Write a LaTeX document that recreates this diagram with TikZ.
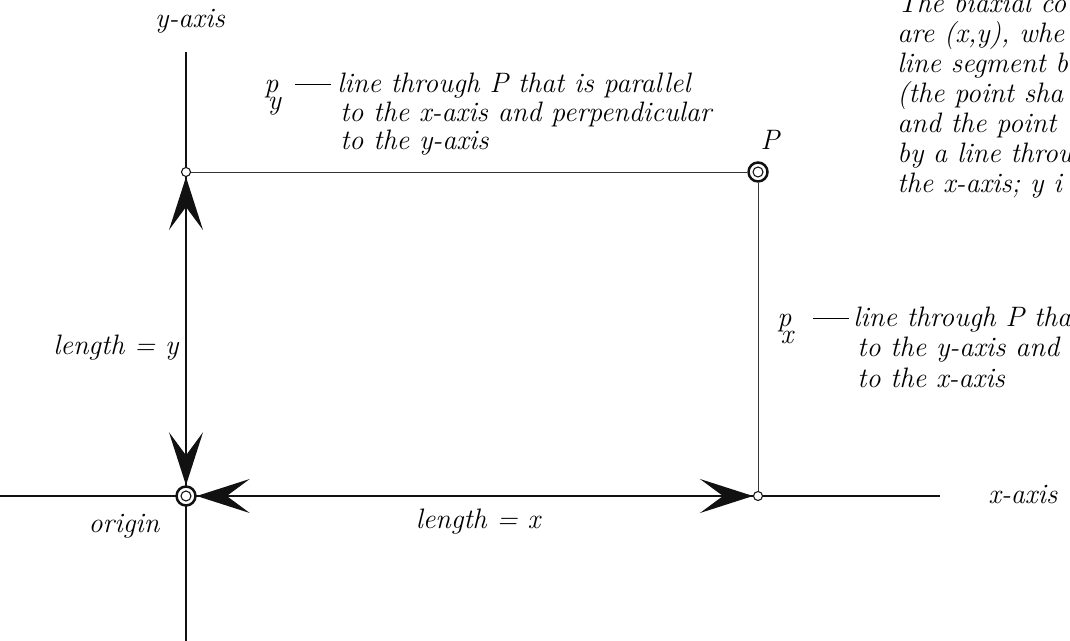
\documentclass[tikz,border=0pt]{standalone}
\usetikzlibrary{arrows.meta,positioning}

\definecolor{dgink}{HTML}{111111}
\newcommand{\psub}[1]{p\kern-.38em\raisebox{-.58em}{#1}}
\newcommand{\pdash}{\rule[.28em]{.72cm}{.5pt}}

\begin{document}
\begin{tikzpicture}[
  x=.02cm,y=-.02cm,
  font=\itshape\fontsize{16}{18}\selectfont,
  >={Stealth[length=10.6mm,width=6.8mm,inset=4.6mm]},
  axis/.style={draw=dgink,line width=.65pt},
  guide/.style={draw=dgink!85,line width=.55pt},
  measure/.style={draw=dgink,line width=1pt,<->},
  dot/.style={circle,draw=dgink,fill=white,line width=.6pt,inner sep=0pt,
    minimum size=1.8mm},
  ring/.style={circle,draw=dgink,fill=white,line width=1.4pt,inner sep=0pt,
    minimum size=3.8mm,
    path picture={\draw[dgink,line width=.6pt]
      (path picture bounding box.center) circle[radius=1mm];}},
  lbl/.style={anchor=base,inner sep=0pt},
  note/.style={anchor=base west,inner sep=0pt}
]
  \clip (0,0) rectangle (1070,641);
  % axes
  \coordinate (ytop) at (186,52);
  \coordinate (ybot) at (186,641);
  \coordinate (xleft) at (0,496);
  \coordinate (xright) at (940,496);
  \draw[axis] (ybot) -- (ytop);
  \draw[axis] (xleft) -- (xright);
  % points
  \node[ring] (O) at (186,496) {};
  \node[ring] (P) at (758,172) {};
  \node[dot] (Y) at (186,172) {};
  \node[dot] (X) at (758,496) {};
  \draw[guide] (Y) -- (P);
  \draw[guide] (P) -- (X);
  \draw[measure] (O) -- (Y);
  \draw[measure] (O) -- (X);
  % labels
  \node[lbl] (ylab) at (190,28) {y-axis};
  \node[note] (xlab) at (988,503) {x-axis};
  \node[lbl] (olab) at (124,532) {origin};
  \node[lbl] (lenx) at (478,528) {length = x};
  \node[note] (leny) at (53,355) {length = y};
  \node[lbl] (plab) at (770,150) {P};
  % p_y
  \node[note] (pysym) at (264,93) {\psub{y}};
  \node[note] (pydash) at (295,93) {\pdash};
  \foreach \i/\xx/\yy/\t in {1/337/93/{line through P that is parallel},
                             2/340/122/{to the x-axis and perpendicular},
                             3/340/150/{to the y-axis}}{
    \node[note] (py\i) at (\xx,\yy) {\t};
  }
  % p_x
  \node[note] (pxsym) at (777,327) {\psub{x}};
  \node[note] (pxdash) at (813,327) {\pdash};
  \foreach \i/\xx/\yy/\t in {1/853/327/{line through P tha},
                             2/857/357/{to the y-axis and},
                             3/857/387/{to the x-axis}}{
    \node[note] (px\i) at (\xx,\yy) {\t};
  }
  % caption, cut at the right
  \foreach \i/\t in {0/{The biaxial co},1/{are (x,y), whe},2/{line segment b},
                     3/{(the point sha},4/{and the point},5/{by a line throu},
                     6/{the x-axis; y i}}{
    \node[note] (cap\i) at (897,13+30*\i) {\t};
  }
\end{tikzpicture}
\end{document}
